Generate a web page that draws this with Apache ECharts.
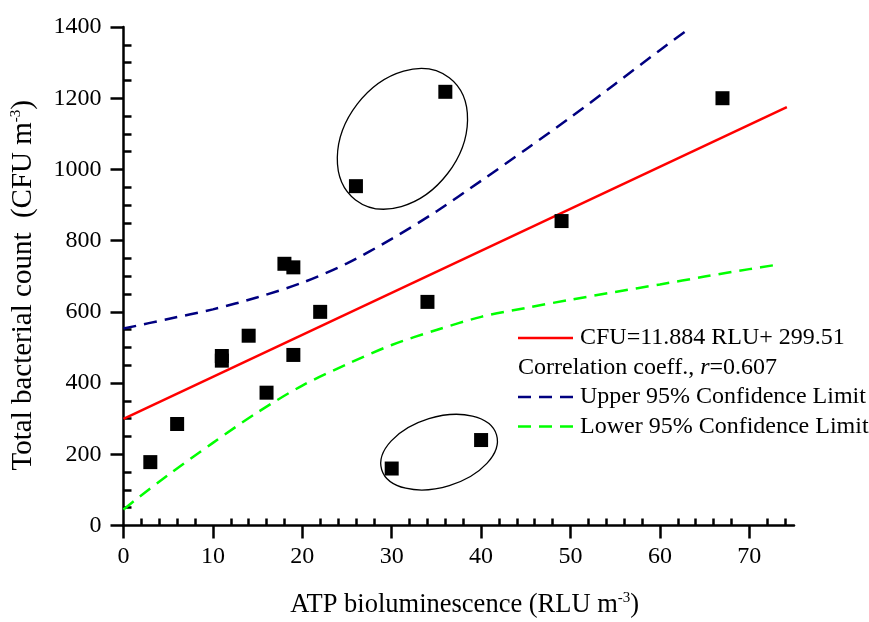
<!DOCTYPE html>
<html>
<head>
<meta charset="utf-8">
<script src="https://cdn.jsdelivr.net/npm/echarts@6/dist/echarts.min.js"></script>
<style>
html,body{margin:0;padding:0;background:#fff;}
#chart{width:869px;height:622px;}
</style>
</head>
<body>
<div id="chart"></div>
<script>
'use strict';

// measured points (RLU, CFU)
var atpX = [3, 6, 11, 11, 14, 16, 18, 19, 19, 22, 26, 30, 34, 36, 40, 49, 67];
var cfuY = [178, 285, 476, 463, 533, 373, 735, 725, 479, 600, 953, 160, 628, 1218, 240, 855, 1200];

// fitted line CFU=11.884 RLU+299.51, end points
var fitX = [0, 74.2];
var fitY = [299.5, 1175];

// 95% confidence limits
var upperX = [0, 5, 10, 15, 20, 25, 30, 35, 40, 45, 50, 55, 60, 63];
var upperY = [553, 580, 607, 641, 682, 736, 805, 882, 968, 1056, 1146, 1240, 1335, 1390];
var lowerX = [0, 1.6, 5, 10, 15, 20, 25, 30, 35, 40, 45, 50, 55, 60, 65, 70, 73];
var lowerY = [45, 77, 142, 232, 318, 393, 453, 507, 549, 586, 611, 634, 656, 677, 699, 720, 732];

var xMajor = [0, 10, 20, 30, 40, 50, 60, 70];
var yMajor = [0, 200, 400, 600, 800, 1000, 1200, 1400];

function pairs(xs, ys){
	var out = [];
	for(var i=0;i<xs.length;i++){
		out.push([xs[i], ys[i]]);
	}
	return out;
}
// inner (minor) tick positions between the major ones
function minors(step, majorStep, max){
	var out = [];
	for(var v=step; v<=max; v+=step){
		if(v % majorStep != 0) out.push(v);
	}
	return out;
}

var fontName = 'Liberation Serif';
var axisColor = '#000';
var supStyle = {fontSize: 15, fontFamily: fontName, color: '#000', verticalAlign: 'top', padding: [0, 0, 14, 0]};

var myChart = echarts.init(document.getElementById('chart'));
var option = {
	backgroundColor: '#fff',
	animation: false,
	textStyle: {fontFamily: fontName},
	grid: {left: 123.5, right: 75, top: 27, bottom: 96.5, containLabel: false, outerBoundsMode: 'none'},
	xAxis: [
		{
			type: 'value', min: 0, max: 75, position: 'bottom',
			splitLine: {show: false},
			axisLine: {show: true, onZero: false, lineStyle: {color: axisColor, width: 2.5}},
			axisTick: {show: true, inside: false, length: 13, customValues: xMajor, lineStyle: {color: axisColor, width: 2.5}},
			axisLabel: {color: '#000', fontSize: 24, fontFamily: fontName, margin: 19, customValues: xMajor,
				formatter: function(v){ return String(v); }},
			name: 'ATP bioluminescence (RLU m{sup|-3})',
			nameLocation: 'middle',
			nameGap: 65,
			nameTextStyle: {color: '#000', fontSize: 26.5, fontFamily: fontName, padding: [0, 0, 0, 12], rich: {sup: supStyle}}
		},
		{
			type: 'value', min: 0, max: 75, position: 'bottom',
			splitLine: {show: false},
			axisLine: {show: false},
			axisTick: {show: true, inside: true, length: 7, customValues: minors(2, 10, 74), lineStyle: {color: axisColor, width: 2.5}},
			axisLabel: {show: false}
		}
	],
	yAxis: [
		{
			type: 'value', min: 0, max: 1400, position: 'left',
			splitLine: {show: false},
			axisLine: {show: true, onZero: false, lineStyle: {color: axisColor, width: 2.5}},
			axisTick: {show: true, inside: false, length: 13, customValues: yMajor, lineStyle: {color: axisColor, width: 2.5}},
			axisLabel: {color: '#000', fontSize: 24, fontFamily: fontName, margin: 22, customValues: yMajor,
				formatter: function(v){ return String(v); }},
			name: 'Total bacterial count  (CFU m{sup|-3})',
			nameLocation: 'middle',
			nameGap: 86,
			nameRotate: 90,
			nameTextStyle: {color: '#000', fontSize: 29, fontFamily: fontName, padding: [0, 18, 0, 0], rich: {sup: supStyle}}
		},
		{
			type: 'value', min: 0, max: 1400, position: 'left',
			splitLine: {show: false},
			axisLine: {show: false},
			axisTick: {show: true, inside: true, length: 8, customValues: minors(50, 200, 1350), lineStyle: {color: axisColor, width: 2.5}},
			axisLabel: {show: false}
		}
	],
	series: [
		{
			name: 'Upper 95% Confidence Limit',
			type: 'line',
			data: pairs(upperX, upperY),
			showSymbol: false,
			smooth: 0.3,
			lineStyle: {color: '#000080', width: 2.5, type: [13, 8]},
			z: 3
		},
		{
			name: 'Lower 95% Confidence Limit',
			type: 'line',
			data: pairs(lowerX, lowerY),
			showSymbol: false,
			smooth: 0.3,
			lineStyle: {color: '#00ff00', width: 2.5, type: [13, 8]},
			z: 3
		},
		{
			name: 'CFU=11.884 RLU+ 299.51',
			type: 'line',
			data: pairs(fitX, fitY),
			showSymbol: false,
			lineStyle: {color: '#ff0000', width: 2.5},
			z: 3
		},
		{
			name: 'data',
			type: 'scatter',
			data: pairs(atpX, cfuY),
			symbol: 'rect',
			symbolSize: 14,
			itemStyle: {color: '#000', opacity: 1},
			z: 4
		}
	]
};
myChart.setOption(option);

// legend block and the two circled groups
var legendLeft = 518, legendTop = 338, rowGap = 29.5;
function legendLine(row, color, dashed){
	return {
		type: 'line',
		shape: {x1: legendLeft, y1: legendTop + row*rowGap, x2: legendLeft + 55, y2: legendTop + row*rowGap},
		style: {stroke: color, lineWidth: 2.5, lineDash: dashed ? [13, 8] : null},
		z: 10
	};
}
function legendText(row, txt, x){
	return {
		type: 'text',
		x: x, y: legendTop + row*rowGap,
		style: {
			text: txt, fill: '#000', fontSize: 24, fontFamily: fontName,
			verticalAlign: 'middle', align: 'left',
			rich: {it: {fontStyle: 'italic', fontSize: 24, fontFamily: fontName, fill: '#000'}}
		},
		z: 10
	};
}
var c1 = myChart.convertToPixel({seriesIndex: 3}, [31.2, 1086]);
var c2 = myChart.convertToPixel({seriesIndex: 3}, [35.3, 206]);

myChart.setOption({
	graphic: [
		legendLine(0, '#ff0000', false),
		legendText(0, 'CFU=11.884 RLU+ 299.51', legendLeft + 62),
		legendText(1, 'Correlation coeff., {it|r}=0.607', legendLeft),
		legendLine(2, '#000080', true),
		legendText(2, 'Upper 95% Confidence Limit', legendLeft + 62),
		legendLine(3, '#00ff00', true),
		legendText(3, 'Lower 95% Confidence Limit', legendLeft + 62),
		{
			type: 'ellipse',
			x: c1[0], y: c1[1],
			rotation: -37.5*Math.PI/180,
			shape: {cx: 0, cy: 0, rx: 57, ry: 77},
			style: {fill: 'none', stroke: '#000', lineWidth: 1.3},
			z: 5
		},
		{
			type: 'ellipse',
			x: c2[0], y: c2[1],
			rotation: 17*Math.PI/180,
			shape: {cx: 0, cy: 0, rx: 60, ry: 35},
			style: {fill: 'none', stroke: '#000', lineWidth: 1.3},
			z: 5
		}
	]
});
window.onresize = myChart.resize;
</script>
</body>
</html>
